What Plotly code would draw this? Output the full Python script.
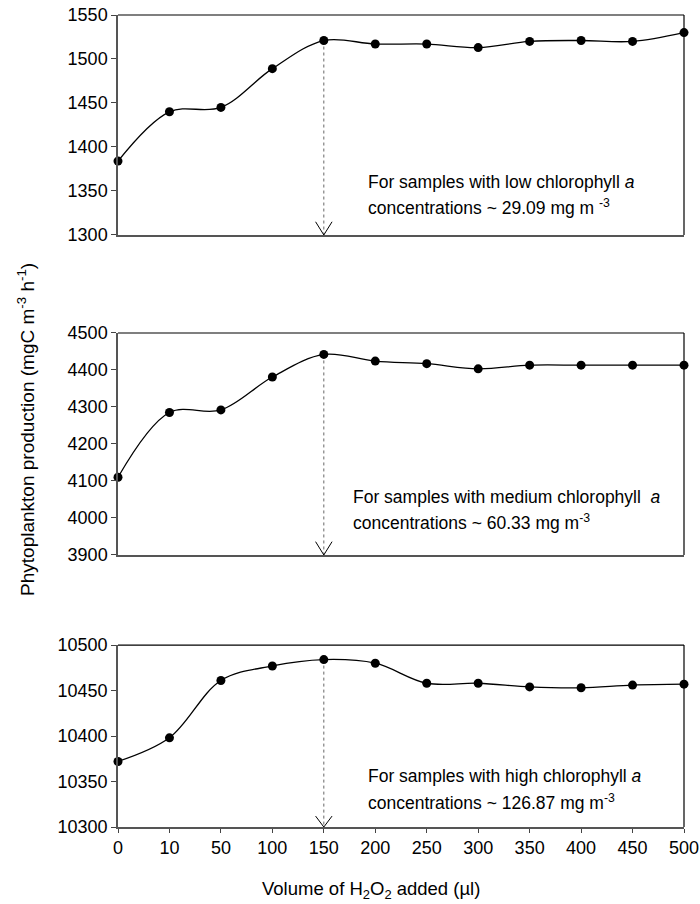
import plotly.graph_objects as go

volumes = ["0", "10", "50", "100", "150", "200", "250", "300", "350", "400", "450", "500"]
low_chl = [1384, 1440, 1445, 1489, 1521, 1517, 1517, 1513, 1520, 1521, 1520, 1530]
medium_chl = [4110, 4285, 4292, 4381, 4442, 4424, 4417, 4403, 4413, 4413, 4413, 4413]
high_chl = [10372, 10398, 10461, 10477, 10484, 10480, 10458, 10458, 10454, 10453, 10456, 10457]

panels = [
    dict(y=low_chl, rng=[1300, 1550], dtick=50, dom=[0.7291, 1.0],
         lines=["For samples with low chlorophyll <i>a</i>",
                "concentrations ~ 29.09 mg m <sup>-3</sup>"]),
    dict(y=medium_chl, rng=[3900, 4500], dtick=100, dom=[0.3350, 0.6084],
         lines=["For samples with medium chlorophyll  <i>a</i>",
                "concentrations ~ 60.33 mg m<sup>-3</sup>"]),
    dict(y=high_chl, rng=[10300, 10500], dtick=50, dom=[0.0, 0.2241],
         lines=["For samples with high chlorophyll <i>a</i>",
                "concentrations ~ 126.87 mg m<sup>-3</sup>"]),
]
text_x = [4.82, 4.53, 4.82]
text_y = [[0.241, 0.127], [0.261, 0.149], [0.280, 0.137]]

FONT = "Liberation Sans, Arial, sans-serif"
xs = list(range(len(volumes)))
peak_idx = volumes.index("150")

fig = go.Figure()
layout = dict(
    width=700, height=904,
    margin=dict(l=118, r=16, t=15, b=77),
    paper_bgcolor="white", plot_bgcolor="white",
    showlegend=False,
    font=dict(family=FONT, size=18, color="black"),
)
annotations = []
shapes = []
for i, p in enumerate(panels):
    n = i + 1
    xa = "x" if n == 1 else f"x{n}"
    ya = "y" if n == 1 else f"y{n}"
    ymin, ymax = p["rng"]
    span = ymax - ymin
    # dotted guide line
    fig.add_trace(go.Scatter(x=[peak_idx, peak_idx], y=[p["y"][peak_idx], ymin],
                             mode="lines", line=dict(color="#666", width=1, dash="dot"),
                             xaxis=xa, yaxis=ya, hoverinfo="skip"))
    # open arrow head
    hw = 0.16
    hh = span * 0.06
    fig.add_trace(go.Scatter(x=[peak_idx - hw, peak_idx, peak_idx + hw],
                             y=[ymin + hh, ymin, ymin + hh],
                             mode="lines", line=dict(color="black", width=1),
                             xaxis=xa, yaxis=ya, hoverinfo="skip", cliponaxis=False))
    # data
    fig.add_trace(go.Scatter(x=xs, y=p["y"], mode="lines+markers",
                             line=dict(color="black", width=1.3, shape="spline", smoothing=1),
                             marker=dict(color="black", size=9),
                             xaxis=xa, yaxis=ya, cliponaxis=False))
    layout["xaxis" if n == 1 else f"xaxis{n}"] = dict(
        range=[0, len(volumes) - 1], tickvals=xs, ticktext=volumes,
        showticklabels=(n == 3), ticks="outside" if n == 3 else "",
        ticklen=4, tickcolor="#444", automargin=False, ticklabeloverflow="allow",
        showline=True, linecolor="#555", linewidth=1.5, showgrid=False, zeroline=False,
        anchor=ya, domain=[0, 1], tickfont=dict(size=18),
    )
    layout["yaxis" if n == 1 else f"yaxis{n}"] = dict(
        range=p["rng"], dtick=p["dtick"], tick0=ymin, ticks="outside", ticklen=5,
        tickformat="d", automargin=False, ticklabeloverflow="allow",
        tickcolor="#444", showline=True, linecolor="#555", linewidth=1.5,
        showgrid=False, zeroline=False, anchor=xa, domain=p["dom"],
        tickfont=dict(size=18),
    )
    # black top & right frame
    shapes.append(dict(type="line", xref=f"{xa} domain", yref=f"{ya} domain",
                       x0=0, x1=1, y0=1, y1=1, line=dict(color="black", width=1.2)))
    shapes.append(dict(type="line", xref=f"{xa} domain", yref=f"{ya} domain",
                       x0=1, x1=1, y0=0, y1=1, line=dict(color="black", width=1.2)))
    for j, t in enumerate(p["lines"]):
        annotations.append(dict(text=t, xref=xa, yref=f"{ya} domain",
                                x=text_x[i], y=text_y[i][j], xanchor="left", yanchor="middle",
                                showarrow=False, font=dict(size=17.5)))

annotations.append(dict(text="Phytoplankton production (mgC m<sup>-3</sup> h<sup>-1</sup>)",
                        xref="paper", yref="paper", x=-0.1625, y=0.489, textangle=-90,
                        showarrow=False, xanchor="center", yanchor="middle", font=dict(size=19)))
annotations.append(dict(text="Volume of H<sub>2</sub>O<sub>2</sub> added (µl)",
                        xref="paper", yref="paper", x=0.447, y=-0.0776,
                        showarrow=False, xanchor="center", yanchor="middle", font=dict(size=18.5)))

layout["annotations"] = annotations
layout["shapes"] = shapes
fig.update_layout(**layout)
fig.write_html("out.html", config={"displayModeBar": False},
               post_script="document.body.style.margin='0';document.body.style.overflow='hidden';")
